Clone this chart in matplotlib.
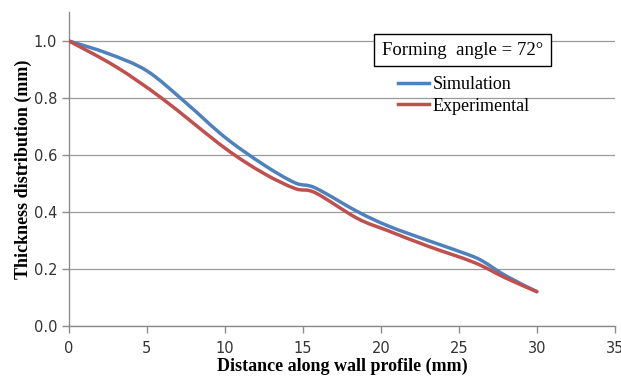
import matplotlib
matplotlib.use("Agg")
import matplotlib.pyplot as plt
from matplotlib.path import Path
from matplotlib.patches import PathPatch
import numpy as np

# wall profile distance (mm) and thickness (mm)
sim_x = [0, 2.5, 5, 7.5, 10, 12.5, 14.5, 15.8, 18.5, 20.5, 23, 25.5, 26.5, 28, 30]
sim_y = [1.0, 0.956, 0.895, 0.783, 0.662, 0.565, 0.502, 0.484, 0.401, 0.35,
         0.30, 0.252, 0.228, 0.176, 0.12]
exp_x = [0, 3, 6, 10, 12.5, 14.5, 15.8, 18.5, 20.5, 23, 26, 28, 30]
exp_y = [1.0, 0.91, 0.797, 0.624, 0.535, 0.482, 0.467, 0.377, 0.333, 0.28,
         0.222, 0.168, 0.12]

xticks = [0, 5, 10, 15, 20, 25, 30, 35]
yticks = [0.0, 0.2, 0.4, 0.6, 0.8, 1.0]


def smooth_path(x, y):
    # Catmull-Rom through the points, written as cubic bezier segments
    x = np.asarray(x, float)
    y = np.asarray(y, float)
    px = np.concatenate([[x[0]], x, [x[-1]]])
    py = np.concatenate([[y[0]], y, [y[-1]]])
    verts = [(x[0], y[0])]
    codes = [Path.MOVETO]
    for i in range(1, len(x)):
        c1 = (px[i] + (px[i + 1] - px[i - 1]) / 6, py[i] + (py[i + 1] - py[i - 1]) / 6)
        c2 = (px[i + 1] - (px[i + 2] - px[i]) / 6, py[i + 1] - (py[i + 2] - py[i]) / 6)
        verts += [c1, c2, (x[i], y[i])]
        codes += [Path.CURVE4] * 3
    return Path(verts, codes)


fig = plt.figure(figsize=(6.21, 3.78), dpi=100)
ax = fig.add_axes([0.111, 0.138, 0.879, 0.829])

for xs, ys, col, name in [(sim_x, sim_y, "#4F81BD", "Simulation"),
                          (exp_x, exp_y, "#C0504D", "Experimental")]:
    ax.add_patch(PathPatch(smooth_path(xs, ys), fc="none", ec=col, lw=2.5,
                           capstyle="round", joinstyle="round", zorder=3))
    ax.plot([], [], color=col, lw=2.5, label=name)

ax.set_xlim(0, 35)
ax.set_ylim(0, 1.1)
ax.set_xticks(xticks)
ax.set_yticks(yticks)
ax.set_yticklabels(["%.1f" % v for v in yticks])
ax.grid(axis="y", color="#9a9a9a", lw=0.9)
ax.set_axisbelow(True)

for s in ["top", "right"]:
    ax.spines[s].set_visible(False)
for s in ["left", "bottom"]:
    ax.spines[s].set_color("#8c8c8c")
    ax.spines[s].set_linewidth(1.0)
ax.tick_params(colors="#8c8c8c", length=5, width=1.0, labelcolor="#333333",
               labelsize=10.5)
ax.tick_params(axis="x", pad=6)

serif = ["Liberation Serif", "DejaVu Serif"]
ax.set_xlabel("Distance along wall profile (mm)", family=serif, weight="bold",
              fontsize=13, labelpad=1)
ax.set_ylabel("Thickness distribution (mm)", family=serif, weight="bold",
              fontsize=13, labelpad=1)

ax.text(0.721, 0.879, "Forming  angle = 72\u00b0", transform=ax.transAxes,
        ha="center", va="center", family=serif, fontsize=13.5,
        bbox=dict(boxstyle="square,pad=0.4", fc="white", ec="black", lw=1.0))

leg = ax.legend(loc="upper left", bbox_to_anchor=(0.59, 0.82), frameon=False,
                prop={"family": serif, "size": 13}, handlelength=1.7,
                handletextpad=0.2, labelspacing=0.25, borderaxespad=0)

fig.savefig("out.png", dpi=100)
